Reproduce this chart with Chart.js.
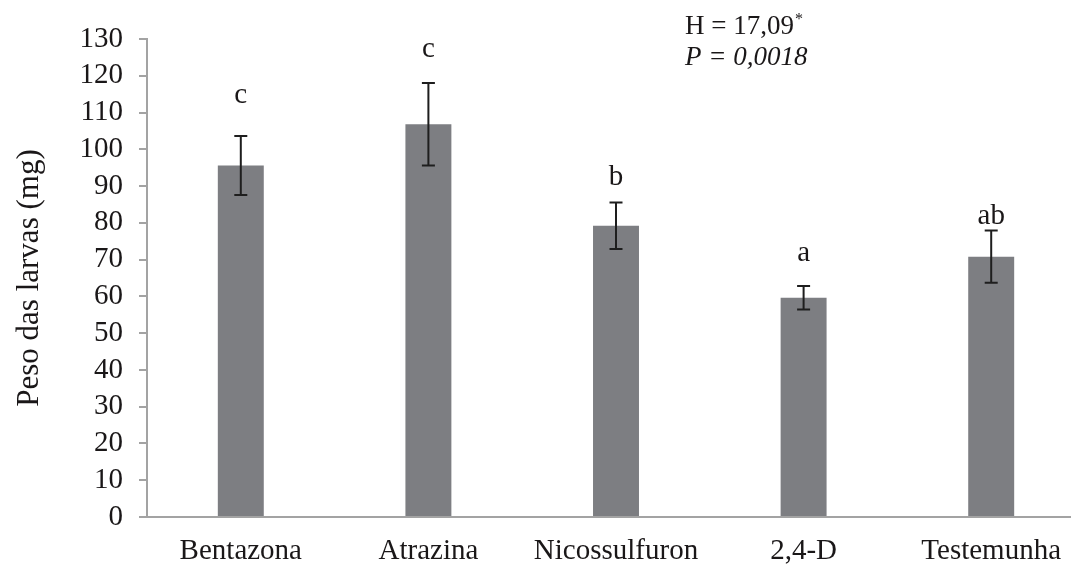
<!DOCTYPE html>
<html>
<head>
<meta charset="utf-8">
<script src="https://cdn.jsdelivr.net/npm/chart.js@4/dist/chart.umd.min.js"></script>
<style>
  html, body { margin: 0; padding: 0; background: #fff; overflow: hidden; }
  canvas { display: block; }
</style>
</head>
<body>
<canvas id="pesoChart" width="1085" height="567"></canvas>
<script>
// treatments and mean larval weight (mg) with standard errors
const categories = ['Bentazona', 'Atrazina', 'Nicossulfuron', '2,4-D', 'Testemunha'];
const pesoMedio = [95.6, 106.8, 79.2, 59.6, 70.8];
const erroPadrao = [8.0, 11.2, 6.3, 3.2, 7.1];
// significance letters and the value where their baseline sits
const letras = ['c', 'c', 'b', 'a', 'ab'];
const letrasY = [112.6, 125.0, 90.3, 69.6, 79.7];
const yTicks = { min: 0, max: 130, step: 10 };

const serif = '"Liberation Serif", "Times New Roman", serif';
const textColor = '#1a1718';
const axisColor = '#a3a3a3';

const errorBars = {
    id: 'errorBars',
    afterDatasetsDraw(chart) {
        const ctx = chart.ctx;
        const x = chart.scales.x, y = chart.scales.y;
        ctx.save();
        ctx.strokeStyle = '#1e1e1e';
        ctx.lineWidth = 2;
        pesoMedio.forEach((v, i) => {
            const px = x.getPixelForValue(i);
            const top = y.getPixelForValue(v + erroPadrao[i]);
            const bot = y.getPixelForValue(v - erroPadrao[i]);
            ctx.beginPath();
            ctx.moveTo(px, top); ctx.lineTo(px, bot);
            ctx.moveTo(px - 6.5, top); ctx.lineTo(px + 6.5, top);
            ctx.moveTo(px - 6.5, bot); ctx.lineTo(px + 6.5, bot);
            ctx.stroke();
        });
        // letters
        ctx.fillStyle = textColor;
        ctx.font = '29px ' + serif;
        ctx.textAlign = 'center';
        ctx.textBaseline = 'alphabetic';
        letras.forEach((l, i) => {
            ctx.fillText(l, x.getPixelForValue(i), y.getPixelForValue(letrasY[i]));
        });
        // test statistic
        ctx.font = '27px ' + serif;
        ctx.textAlign = 'left';
        ctx.fillText('H = 17,09', 685, 34);
        const w = ctx.measureText('H = 17,09').width;
        ctx.font = '16px ' + serif;
        ctx.fillText('*', 685 + w + 1, 24);
        ctx.font = 'italic 27px ' + serif;
        ctx.fillText('P = 0,0018', 685, 65);
        ctx.restore();
    }
};

new Chart(document.getElementById('pesoChart').getContext('2d'), {
    type: 'bar',
    data: {
        labels: categories,
        datasets: [{
            data: pesoMedio,
            backgroundColor: '#7d7e82',
            categoryPercentage: 1,
            barPercentage: 0.245
        }]
    },
    options: {
        responsive: false,
        animation: false,
        layout: { padding: { top: 39, left: 0, right: 0, bottom: 0 } },
        plugins: {
            legend: { display: false },
            tooltip: { enabled: false }
        },
        scales: {
            x: {
                grid: { display: false },
                border: { display: true, color: axisColor, width: 2 },
                ticks: {
                    color: textColor,
                    font: { family: serif, size: 29 },
                    padding: 9,
                    maxRotation: 0,
                    autoSkip: false
                },
                afterFit(s) { s.height = 50; }
            },
            y: {
                min: yTicks.min,
                max: yTicks.max,
                grid: {
                    drawOnChartArea: false,
                    color: axisColor,
                    lineWidth: 2,
                    tickLength: 8
                },
                border: { display: true, color: axisColor, width: 2 },
                ticks: {
                    stepSize: yTicks.step,
                    color: textColor,
                    font: { family: serif, size: 29 },
                    padding: 16,
                    autoSkip: false
                },
                title: {
                    display: true,
                    text: 'Peso das larvas (mg)',
                    color: textColor,
                    font: { family: serif, size: 31 },
                    padding: { top: 11, bottom: 0 }
                },
                afterFit(s) { s.width = 147; }
            }
        }
    },
    plugins: [errorBars]
});
</script>
</body>
</html>
